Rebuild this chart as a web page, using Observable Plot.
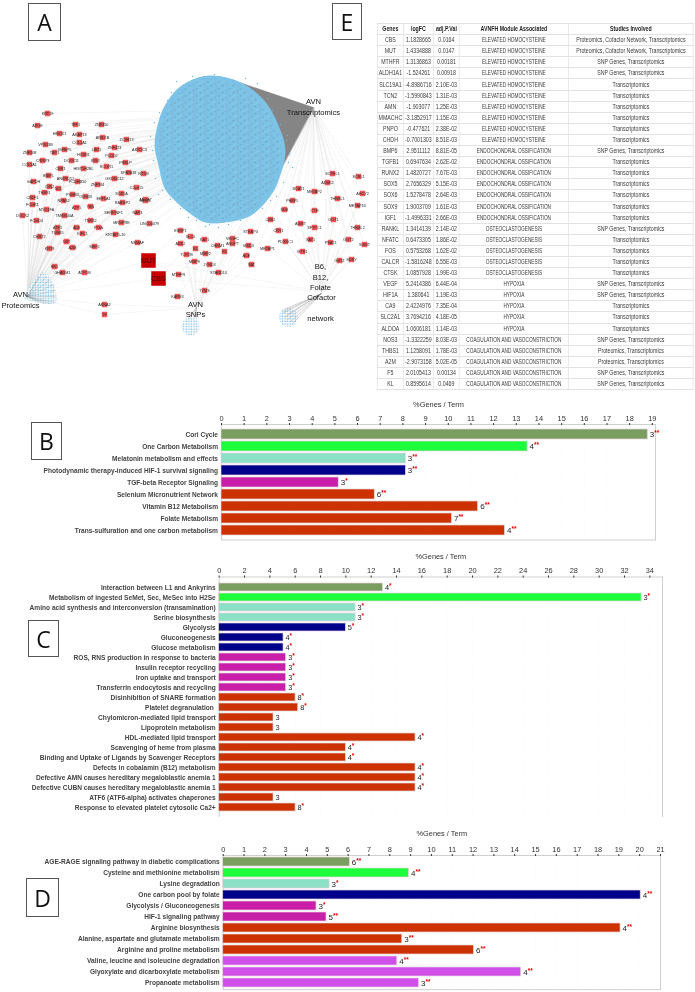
<!DOCTYPE html>
<html><head><meta charset="utf-8">
<script src="https://cdn.jsdelivr.net/npm/d3@7"></script>
<script src="https://cdn.jsdelivr.net/npm/@observablehq/plot@0.6"></script>
<style>
html,body{margin:0;padding:0;background:#fff}
#page{position:relative;width:695px;height:992px;overflow:hidden;background:#fff;filter:blur(.3px)}
.panel{position:absolute;left:0;overflow:hidden}
.letter{position:absolute;box-sizing:border-box;border:1.4px solid #555;background:#fff;display:flex;align-items:center;justify-content:center;font:23px "Open Sans",sans-serif;color:#111}
#tbl{position:absolute;left:377px;top:23px;border-collapse:collapse;table-layout:fixed;width:421.3px;transform:scaleX(.75);transform-origin:0 0;font:7px "Liberation Sans",sans-serif;color:#3a3a3a}
#tbl td,#tbl th{border:.6px solid #e2e2e2;height:10.1px;padding:0;text-align:center;white-space:nowrap;line-height:10px}
#tbl td.m{font-size:6.3px}
#tbl th{font-weight:bold;color:#222}
</style></head><body><div id="page"></div>
<script>
// ---------- Table E ----------
const tableHead = ["Genes","logFC","adj.P.Val","AVNFH Module Associated","Studies Involved"];
const tableGenes = ["CBS","MUT","MTHFR","ALDH1A1","SLC19A1","TCN2","AMN","MMACHC","PNPO","CHDH","BMP6","TGFB1","RUNX2","SOX5","SOX6","SOX9","IGF1","RANKL","NFATC","FOS","CALCR","CTSK","VEGF","HIF1A","CA9","SLC2A1","ALDOA","NOS3","THBS1","A2M","F5","KL"];
const tableLogFC = ["1.1828665","1.4334888","1.3136863","-1.524261","-4.8986716","-1.5990843","-1.903077","-3.1852917","-0.477621","-0.7001303","2.9511112","0.6947634","1.4820727","2.7656329","1.5278478","1.9003709","-1.4996331","1.3414139","0.6473305","0.5753268","-1.5816248","1.0857928","5.2414386","1.380641","2.4224976","3.7694216","1.0606181","-1.3322259","1.1258091","-2.9073158","2.0105413","0.8595614"];
const tableP = ["0.0164","0.0147","0.00181","0.00918","2.10E-03","1.31E-03","1.25E-03","1.15E-03","2.38E-02","8.51E-03","8.81E-05","2.62E-02","7.67E-03","5.15E-03","2.64E-03","1.61E-03","2.66E-03","2.14E-02","1.86E-02","1.62E-02","6.55E-03","1.99E-03","6.44E-04","1.19E-03","7.35E-04","4.18E-05","1.14E-03","8.03E-03","1.78E-03","5.02E-05","0.00134","0.0469"];
const HC="ELEVATED HOMOCYSTEINE",EO="ENDOCHONDRAL OSSIFICATION",OC="OSTEOCLASTOGENESIS",HY="HYPOXIA",CV="COAGULATION AND VASOCONSTRICTION";
const tableModule = [HC,HC,HC,HC,HC,HC,HC,HC,HC,HC,EO,EO,EO,EO,EO,EO,EO,OC,OC,OC,OC,OC,HY,HY,HY,HY,HY,CV,CV,CV,CV,CV];
const PCT="Proteomics, Cofactor Network, Transcriptomics",ST="SNP Genes, Transcriptomics",TR="Transcriptomics",PT="Proteomics, Transcriptomics";
const tableStudies = [PCT,PCT,ST,ST,TR,TR,TR,TR,TR,TR,ST,TR,TR,TR,TR,TR,TR,ST,TR,TR,TR,TR,ST,ST,TR,TR,TR,ST,PT,PT,ST,ST];

// ---------- Bar panels ----------
const groupNames = ["a","b","c","d","e","f","g"];
const groupColors = ["#7a9e60","#1dff3d","#8ce0c6","#00008b","#c91ea8","#cc3300","#cf4fe8"];

const bTerms = ["Cori Cycle","One Carbon Metabolism","Melatonin metabolism and effects","Photodynamic therapy-induced HIF-1 survival signaling","TGF-beta Receptor Signaling","Selenium Micronutrient Network","Vitamin B12 Metabolism","Folate Metabolism","Trans-sulfuration and one carbon metabolism"];
const bValues = [18.8,13.5,8.13,8.13,5.17,6.76,11.32,10.16,12.5];
const bCounts = ["3","4","3","3","3","6","6","7","4"];
const bStars = ["**","**","**","**","*","**","**","**","**"];
const bGroups = ["a","b","c","d","e","f","f","f","f"];

const cTerms = ["Interaction between L1 and Ankyrins","Metabolism of ingested SeMet, Sec, MeSec into H2Se","Amino acid synthesis and interconversion (transamination)","Serine biosynthesis","Glycolysis","Gluconeogenesis","Glucose metabolism","ROS, RNS production in response to bacteria","Insulin receptor recycling","Iron uptake and transport","Transferrin endocytosis and recycling","Disinhibition of SNARE formation","Platelet degranulation ","Chylomicron-mediated lipid transport","Lipoprotein metabolism","HDL-mediated lipid transport","Scavenging of heme from plasma","Binding and Uptake of Ligands by Scavenger Receptors","Defects in cobalamin (B12) metabolism","Defective AMN causes hereditary megaloblastic anemia 1","Defective CUBN causes hereditary megaloblastic anemia 1","ATF6 (ATF6-alpha) activates chaperones","Response to elevated platelet cytosolic Ca2+"];
const cValues = [12.93,33.35,10.77,10.77,10,5.08,5.08,5.29,5.29,5.29,5.29,6.03,6.24,4.29,4.29,15.5,10,10,15.5,15.5,15.5,4.29,6.03];
const cCounts = ["4","3","3","3","5","4","4","3","3","3","3","8","8","3","3","4","4","4","4","4","4","3","8"];
const cStars = ["*","*","*","*","*","*","*","*","*","*","*","*","*","","","*","*","*","*","*","*","","*"];
const cGroups = ["a","b","c","c","d","d","d","e","e","e","e","f","f","f","f","f","f","f","f","f","f","f","f"];

const dTerms = ["AGE-RAGE signaling pathway in diabetic complications","Cysteine and methionine metabolism","Lysine degradation","One carbon pool by folate","Glycolysis / Gluconeogenesis","HIF-1 signaling pathway","Arginine biosynthesis","Alanine, aspartate and glutamate metabolism","Arginine and proline metabolism","Valine, leucine and isoleucine degradation","Glyoxylate and dicarboxylate metabolism","Propanoate metabolism"];
const dValues = [6.08,8.92,5.11,20.05,4.48,4.96,19.08,8.6,12.04,8.36,14.31,9.4];
const dCounts = ["6","4","3","4","3","5","4","3","6","4","4","3"];
const dStars = ["**","**","*","**","*","**","**","**","**","**","**","**"];
const dGroups = ["a","b","c","d","e","e","f","f","f","g","g","g"];

// ---------- Network A (layout) ----------
const hubs = {T:[313,107],P:[27,296],S:[196,307],B:[321,291]};
const proteomicGenes = [["KRT19",47,113],["APOE",37,125],["TFF1",75,124],["ZNF350",101,124],["HMOX1",59,133],["AKAP13",79,134],["ARID1B",102,137],["ZC3H13",126,139],["VPS13B",45,144],["COL1A1",79,142],["IGFBP5",64,149],["LBP1",96,149],["ZNF423",114,147],["AKR1C3",139,149],["ZNF208",29,152],["TBP1",54,152],["HOXB1",83,154],["PLOD2",111,155],["COL5A1",29,164],["CRISP3",42,160],["DOCK11",71,160],["IRS3",95,160],["PRELP",125,162],["CBR1",60,168],["HIST1H2BL",83,168],["RCOR1",106,166],["BNIPL",48,175],["SPATA18",128,172],["NT5M",143,173],["ANKRD52",65,178],["PCDHB10",77,181],["GSDMC12",114,178],["GAPDH",33,181],["ZNF384",97,184],["C2orf15",136,187],["CD52",49,186],["NCL",58,188],["THBS1",44,192],["PSMB3",72,194],["OLFM3",85,196],["SOX5A",121,193],["CBLF1",32,197],["EEF1A1",103,198],["ANXA7",145,199],["FCGR1",32,204],["NPAS2",63,200],["MYO1FA",46,209],["ATP5",76,207],["TBN",90,206],["TMEM44A",64,215],["TNKS2",90,220],["DOCK2",22,215],["FCGD4",36,220],["RAB3IP2",122,202],["MRC1",145,200],["SERPINF1",113,212],["NAP3",137,212],["MRGPRE",121,222],["LINC00479",149,223],["ATF1",57,227],["ALB",76,227],["PIGA",98,227],["TUBB5",57,232],["KIFC1",82,233],["KRTAP5-10",115,234],["CHST2",39,236],["NSMAF",137,242],["DBT",66,241],["KRT8",49,248],["A2M",72,247],["MEF2",94,246],["HK1",54,266],["GHADM1",62,272],["ATP5M",84,272]];
const snpGenes = [["ESRP1",180,230],["ARK2",180,243],["TOP2B",186,254],["MTHFR",178,274],["KARS3",177,296],["SLC6",190,236],["KAT1",204,239],["VEGFC",232,238],["ANGPT",232,243],["CHRM1",217,245],["STEAP4",250,231],["MSD3",248,245],["KL",195,248],["MMP2",205,253],["F5",224,251],["ACE",246,255],["SAT",251,264],["MMP9",194,261],["JYND3",209,264],["STARD13",218,272],["TYMS",204,290]];
const cofactorGenes = [["PHKPL",292,200],["SDS",284,209],["CTH",314,210],["CBS2",270,219],["AGMT",300,223],["GOT1",333,219],["SFTPC1",314,227],["CRY1",278,230],["SAT1",310,239],["PDXDC1",285,241],["PSAT1",330,242],["GOT2",348,239],["METAP1",267,248],["MTR1",302,251],["GSTZ",339,260],["SDSY",351,259],["SGMT",364,244],["THNSL2",357,227],["METAP1D",357,205],["THNSL1",337,198],["AHCY2",362,193],["SCPEL1",332,173],["SCRL1",358,176],["ADSK2",327,182],["BCAT1",298,188],["METAP2",314,191]];
const sharedLow = [["AKNA2",104,304],["TF",104,314]];
const bigGenes = [["MUT",148,260],["CBS",158,278]];
const blobOutline = [[213,77],[240,84],[262,101],[275,123],[283,150],[277,177],[270,192],[250,213],[225,220],[205,220],[190,211],[176,199],[166,187],[160,165],[156,145],[159,125],[165,108],[178,90],[195,80]];
const wedgeOutline = [[313,107],[233,80],[277,175]];
const strayNodes = [[214,74],[192,76],[176,81],[245,78],[257,83],[267,98],[280,124],[284,147],[289,154],[150,136],[153,160],[167,100],[172,98],[158,194],[270,200],[218,227],[196,220],[180,208],[287,135],[228,224],[205,226],[292,167],[183,85],[203,78],[225,78],[233,80],[251,90],[272,110],[275,118],[286,140],[288,162],[283,182],[276,196],[262,208],[240,220],[188,217],[170,199],[162,190],[155,178],[152,150],[154,122],[159,112],[171,92],[209,224]];
const proteomicCloud = [[42,272],[50,279],[55,290],[55,302],[44,303],[33,301],[24,298],[30,285]];
const proteomicFan = [[38,276],[42,272],[46,276],[50,279],[53,284],[55,290],[55,296],[55,302],[50,303],[44,303],[38,302]];
const b6Fan = [[281,310],[282,313],[284,317],[286,320],[289,322],[292,323],[283,311],[287,314]];
const snpFan = [[190,317],[193,318],[196,319],[187,318]];
const clusterSNP = [{x:190,y:326}];
const clusterB6 = [{x:288,y:317}];
const hubText = [["AVN",313,101],["Transcriptomics",313,112],["AVN",20,294],["Proteomics",20,305],["AVN",195,304],["SNPs",195,314],["B6,",320,266],["B12,",320,277],["Folate",320,287],["Cofactor",321,297],["network",320,318]];

const page = document.getElementById("page");
const font = '"Liberation Sans",sans-serif';

function links(list, keys){
  const out=[];
  for(const g of list) for(const k of keys) out.push({x1:hubs[k][0],y1:hubs[k][1],x2:g[1],y2:g[2]});
  return out;
}
const allLinks = [
  ...links(proteomicGenes,["P","T"]),
  ...links(snpGenes,["S","T"]),
  ...links(cofactorGenes,["B","T"]),
  ...links(sharedLow,["P","S"]),
  ...links(bigGenes,["P","T","B"])
];
const fanLinks = [
  ...proteomicFan.map(p=>({x1:hubs.P[0],y1:hubs.P[1],x2:p[0],y2:p[1]})),
  ...b6Fan.map(p=>({x1:hubs.B[0],y1:hubs.B[1]+2,x2:p[0],y2:p[1]})),
  ...snpFan.map(p=>({x1:hubs.S[0],y1:hubs.S[1],x2:p[0],y2:p[1]}))
];
const smallNodes = [...proteomicGenes,...snpGenes,...cofactorGenes,...sharedLow];

const net = Plot.plot({
  width:372,height:395,margin:0,
  x:{domain:[0,372],range:[0,372],axis:null},
  y:{domain:[0,395],range:[0,395],axis:null},
  marks:[
    Plot.link(allLinks,{x1:"x1",y1:"y1",x2:"x2",y2:"y2",stroke:"#d4d4d4",strokeWidth:.3,strokeOpacity:.7}),
    Plot.line(wedgeOutline,{x:d=>d[0],y:d=>d[1],fill:"#858585",stroke:"#858585",strokeWidth:.5,curve:"linear-closed"}),
    Plot.line(blobOutline,{x:d=>d[0],y:d=>d[1],fill:"url(#blobTex)",stroke:"#7cc3e7",strokeWidth:4,strokeDasharray:"1 1.8",curve:"catmull-rom-closed"}),
    Plot.line(proteomicCloud,{x:d=>d[0],y:d=>d[1],fill:"url(#dotTex)",stroke:"none",curve:"catmull-rom-closed"}),
    Plot.dot(clusterSNP,{x:"x",y:"y",r:9,fill:"url(#dotTex)",stroke:"none"}),
    Plot.dot(clusterB6,{x:"x",y:"y",r:9.5,fill:"url(#dotTex)",stroke:"none"}),
    Plot.link(fanLinks,{x1:"x1",y1:"y1",x2:"x2",y2:"y2",stroke:"#888",strokeWidth:.45,strokeOpacity:.8}),
    Plot.dot(strayNodes,{x:d=>d[0],y:d=>d[1],r:.7,fill:"#6cb8e0"}),
    Plot.dot(smallNodes,{x:d=>d[1],y:d=>d[2],symbol:"square",r:3.1,fill:"#ee5a5a"}),
    Plot.dot(bigGenes,{x:d=>d[1],y:d=>d[2],symbol:"square",r:8.2,fill:"#c80000"}),
    Plot.text(smallNodes,{x:d=>d[1],y:d=>d[2],text:d=>d[0],fontSize:3.8,fill:"#222",fontFamily:font}),
    Plot.text(bigGenes,{x:d=>d[1],y:d=>d[2],text:d=>d[0],fontSize:7,fill:"#400",fontFamily:font}),
    Plot.text(hubText,{x:d=>d[1],y:d=>d[2],text:d=>d[0],fontSize:7.6,fill:"#111",fontFamily:font})
  ]
});
const defs = d3.select(net).insert("defs",":first-child");
const p1 = defs.append("pattern").attr("id","blobTex").attr("patternUnits","userSpaceOnUse").attr("width",11).attr("height",7);
p1.append("rect").attr("width",11).attr("height",7).attr("fill","#7cc3e7");
for (const [x,y,w,h,c] of [[1,.6,2,1,"#6a96ad"],[6,1.4,1.4,.8,"#8a9aa6"],[3.2,3.4,1.2,1,"#98d4f0"],[8.4,3.9,1.8,.9,"#6a96ad"],[.4,5.4,1.2,.8,"#98d4f0"],[5,5.6,1.6,.9,"#7f98a8"]])
  p1.append("rect").attr("x",x).attr("y",y).attr("width",w).attr("height",h).attr("fill",c);
const p2 = defs.append("pattern").attr("id","dotTex").attr("patternUnits","userSpaceOnUse").attr("width",2.6).attr("height",2.6);
p2.append("rect").attr("width",2.6).attr("height",2.6).attr("fill","#fff");
p2.append("rect").attr("x",.5).attr("y",.5).attr("width",1.3).attr("height",1.3).attr("fill","#6fb9e3");

function addPanel(svg,top,height){
  const d=document.createElement("div");d.className="panel";d.style.top=top+"px";d.style.width="695px";d.style.height=height+"px";d.appendChild(svg);page.appendChild(d);
}
addPanel(net,0,395);
net.style.width="372px";

function barPanel({top,clipH,terms,values,counts,stars,groups,max,ticks,x0,x1,axisY,rowH,pad,starDx,numSize,titleOffset}){
  const data=terms.map((t,i)=>({term:t,value:values[i],count:counts[i],stars:stars[i],group:groups[i]}));
  const mt=axisY-top, plotH=mt+rowH*terms.length;
  const svg=Plot.plot({
    width:695,height:Math.ceil(plotH)+1,marginTop:mt,marginBottom:Math.ceil(plotH)+1-plotH,marginLeft:x0,marginRight:695-x1,
    x:{domain:[0,max],range:[x0,x1]},
    y:{type:"band",domain:terms,padding:pad,range:[mt,plotH],axis:null},
    color:{domain:groupNames,range:groupColors},
    style:{fontFamily:font},
    marks:[
      Plot.gridX(ticks,{stroke:"#b5b5b5",strokeWidth:.6,strokeDasharray:"1.5 1.5"}),
      Plot.frame({stroke:"#d0d0d0"}),
      Plot.axisX({anchor:"top",ticks,tickSize:2,tickPadding:2,fontSize:7.4,label:"%Genes / Term",labelAnchor:"center",labelArrow:"none",labelOffset:titleOffset,color:"#333"}),
      Plot.axisY({domain:terms,tickSize:0,tickPadding:3.5,fontSize:6.6,fontWeight:"bold",color:"#444",label:null,textStroke:"none",lineWidth:Infinity,style:{letterSpacing:".1px"}}),
      Plot.barX(data,{x:"value",y:"term",fill:"group",stroke:"#e6d2dc",strokeWidth:.7}),
      Plot.text(data,{x:"value",y:"term",text:"count",dx:2,textAnchor:"start",fontSize:numSize,fill:"#222"}),
      Plot.text(data,{x:"value",y:"term",text:"stars",dx:starDx,dy:-1.4,textAnchor:"start",fontSize:6.4,fontWeight:"bold",fill:"#e80000"})
    ]
  });
  addPanel(svg,top,clipH);
}
barPanel({top:395,clipH:150,terms:bTerms,values:bValues,counts:bCounts,stars:bStars,groups:bGroups,max:19.14,ticks:d3.range(0,20),x0:221,x1:655,axisY:424,rowH:12.83,pad:.2,starDx:6.5,numSize:8,titleOffset:23});
barPanel({top:545,clipH:272,terms:cTerms,values:cValues,counts:cCounts,stars:cStars,groups:cGroups,max:35,ticks:d3.range(0,35,2),x0:218.7,x1:662,axisY:576.5,rowH:10.53,pad:.16,starDx:6,numSize:7.4,titleOffset:23});
barPanel({top:825,clipH:167,terms:dTerms,values:dValues,counts:dCounts,stars:dStars,groups:dGroups,max:21,ticks:d3.range(0,22),x0:222.7,x1:660,axisY:855,rowH:11.18,pad:.18,starDx:6.5,numSize:8,titleOffset:25});

// table
const t=document.createElement("table");t.id="tbl";
const colW=[34.7,40,34.7,145.3,166.6];
t.innerHTML="<colgroup>"+colW.map(w=>`<col style="width:${w}px">`).join("")+"</colgroup><tr>"+tableHead.map(h=>`<th>${h}</th>`).join("")+"</tr>"+
 tableGenes.map((g,i)=>`<tr><td>${g}</td><td>${tableLogFC[i]}</td><td>${tableP[i]}</td><td class="m">${tableModule[i]}</td><td>${tableStudies[i]}</td></tr>`).join("");
page.appendChild(t);

// panel letters
const letterNames=["A","E","B","C","D"];
const letterBoxes=[[28,3,33,38],[332,3,30,37],[31,422,31,38],[28,620,31,37],[26,878,33,39]];
letterNames.forEach((n,i)=>{const b=letterBoxes[i];const d=document.createElement("div");d.className="letter";d.textContent=n;d.style.cssText=`left:${b[0]}px;top:${b[1]}px;width:${b[2]}px;height:${b[3]}px`;page.appendChild(d);});
</script></body></html>
